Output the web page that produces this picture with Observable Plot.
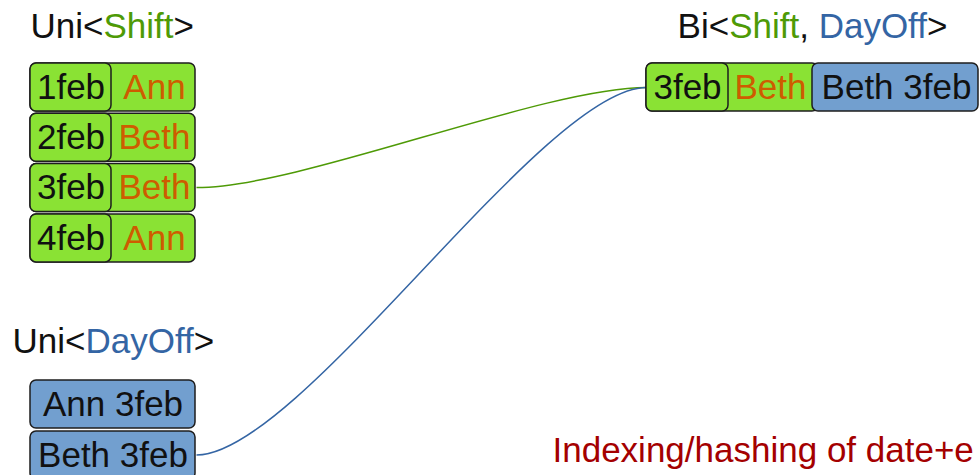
<!DOCTYPE html>
<html><head><meta charset="utf-8">
<script src="https://cdn.jsdelivr.net/npm/d3@7"></script>
<script src="https://cdn.jsdelivr.net/npm/@observablehq/plot@0.6"></script>
<style>html,body{margin:0;padding:0;background:#fff;overflow:hidden}</style>
</head><body><div id="chart"></div>
<script>
// ---- data ----
const shiftDates = ["1feb", "2feb", "3feb", "4feb"];
const shiftEmployees = ["Ann", "Beth", "Beth", "Ann"];
const dayOffs = ["Ann 3feb", "Beth 3feb"];
const biShiftDate = "3feb";
const biShiftEmployee = "Beth";
const biDayOff = "Beth 3feb";
const titleUniShift = ["Uni<", "Shift", ">"];
const titleUniDayOff = ["Uni<", "DayOff", ">"];
const titleBi = ["Bi<", "Shift", ", ", "DayOff", ">"];
const linkFrom = [{stream: "shift", row: 2, type: "Shift"}, {stream: "dayOff", row: 1, type: "DayOff"}];
const note = "Indexing/hashing of date+e";

// ---- styles & layout ----
const C = {
  greenFill: "#8ae234", blueFill: "#729fcf", stroke: "#1e1e1e",
  orange: "#ce5c00", Shift: "#4e9a06", DayOff: "#3465a4", red: "#a40000", black: "#111"
};
const FS = 35;
const L = {x1: 30, split: 111, x2: 195};
const shiftY = i => 63 + i * 50.3;
const dayOffY = i => 380 + i * 51;
const BH = 48;
const B = {x1: 646, s1: 728, s2: 812, x2: 978, y1: 63};

const shiftRows = shiftDates.map((d, i) => ({date: d, emp: shiftEmployees[i], y1: shiftY(i), y2: shiftY(i) + BH}));
const dayOffRows = dayOffs.map((d, i) => ({label: d, y1: dayOffY(i), y2: dayOffY(i) + BH}));
const biRow = [{date: biShiftDate, emp: biShiftEmployee, dayOff: biDayOff}];

const titles = [
  {parts: titleUniShift, x: 30, y: 26, anchor: "start"},
  {parts: titleBi, x: 812, y: 26, anchor: "middle"},
  {parts: titleUniDayOff, x: 12, y: 341, anchor: "start"}
];
titles.forEach(t => t.text = t.parts.join(""));

const links = linkFrom.map(l => {
  const rows = l.stream === "shift" ? shiftRows : dayOffRows;
  const r = rows[l.row];
  return {x1: L.x2 + 1, y1: (r.y1 + r.y2) / 2 - 0.5, x2: B.x1, y2: B.y1 + BH / 2, stroke: C[l.type]};
});

// cubic link with horizontal end tangents, control handles at a fraction of the span
function curveHandle(context) {
  const k = 0.23;
  let pts = [];
  return {
    areaStart() {}, areaEnd() {},
    lineStart() { pts = []; },
    point(x, y) { pts.push([x, y]); },
    lineEnd() {
      if (pts.length < 2) return;
      const [a, b] = pts, dx = b[0] - a[0];
      context.moveTo(a[0], a[1]);
      context.bezierCurveTo(a[0] + k * dx, a[1], b[0] - k * dx, b[1], b[0], b[1]);
    }
  };
}

const plot = Plot.plot({
  width: 979, height: 475,
  margin: 0,
  x: {type: "identity", axis: null},
  y: {type: "identity", axis: null},
  color: {type: "identity"},
  style: {fontFamily: "'Liberation Sans', Arial, sans-serif", background: "#fff"},
  marks: [
    Plot.link(links, {x1: "x1", y1: "y1", x2: "x2", y2: "y2", stroke: "stroke", strokeWidth: 1.5, curve: curveHandle}),
    // Uni<Shift>
    Plot.rect(shiftRows, {x1: L.x1, x2: L.x2, y1: "y1", y2: "y2", fill: C.greenFill, stroke: C.stroke, strokeWidth: 1.5, rx: 6}),
    Plot.rect(shiftRows, {x1: L.x1, x2: L.split, y1: "y1", y2: "y2", fill: C.greenFill, stroke: C.stroke, strokeWidth: 1.5, rx: 6}),
    Plot.text(shiftRows, {x: (L.x1 + L.split) / 2, y: d => (d.y1 + d.y2) / 2, text: "date", fill: C.black, fontSize: FS}),
    Plot.text(shiftRows, {x: (L.split + L.x2) / 2 + 1, y: d => (d.y1 + d.y2) / 2, text: "emp", fill: C.orange, fontSize: FS}),
    // Uni<DayOff>
    Plot.rect(dayOffRows, {x1: L.x1, x2: L.x2, y1: "y1", y2: "y2", fill: C.blueFill, stroke: C.stroke, strokeWidth: 1.5, rx: 6}),
    Plot.text(dayOffRows, {x: (L.x1 + L.x2) / 2, y: d => (d.y1 + d.y2) / 2, text: "label", fill: C.black, fontSize: FS}),
    // Bi<Shift, DayOff>
    Plot.rect(biRow, {x1: B.x1, x2: B.s2 + 6, y1: B.y1, y2: B.y1 + BH, fill: C.greenFill, stroke: C.stroke, strokeWidth: 1.5, rx: 6}),
    Plot.rect(biRow, {x1: B.x1, x2: B.s1, y1: B.y1, y2: B.y1 + BH, fill: C.greenFill, stroke: C.stroke, strokeWidth: 1.5, rx: 6}),
    Plot.rect(biRow, {x1: B.s2, x2: B.x2, y1: B.y1, y2: B.y1 + BH, fill: C.blueFill, stroke: C.stroke, strokeWidth: 1.5, rx: 6}),
    Plot.text(biRow, {x: (B.x1 + B.s1) / 2, y: B.y1 + BH / 2, text: "date", fill: C.black, fontSize: FS}),
    Plot.text(biRow, {x: (B.s1 + B.s2) / 2, y: B.y1 + BH / 2, text: "emp", fill: C.orange, fontSize: FS}),
    Plot.text(biRow, {x: (B.s2 + B.x2) / 2 + 1, y: B.y1 + BH / 2, text: "dayOff", fill: C.black, fontSize: FS}),
    // titles
    Plot.text(titles, {x: "x", y: "y", text: "text", textAnchor: "start", filter: d => d.anchor === "start", fill: C.black, fontSize: FS}),
    Plot.text(titles, {x: "x", y: "y", text: "text", textAnchor: "middle", filter: d => d.anchor === "middle", fill: C.black, fontSize: FS}),
    // note
    Plot.text([note], {x: 552, y: 450, text: d => d, textAnchor: "start", fill: C.red, fontSize: FS})
  ]
});

// colour the type names inside the titles
const byText = new Map(titles.map(t => [t.text, t.parts]));
plot.querySelectorAll("text").forEach(t => {
  const parts = byText.get(t.textContent);
  if (!parts) return;
  t.textContent = "";
  for (const p of parts) {
    const ts = document.createElementNS("http://www.w3.org/2000/svg", "tspan");
    ts.textContent = p;
    if (C[p]) ts.setAttribute("fill", C[p]);
    t.appendChild(ts);
  }
});
document.getElementById("chart").appendChild(plot);
</script>
</body></html>
